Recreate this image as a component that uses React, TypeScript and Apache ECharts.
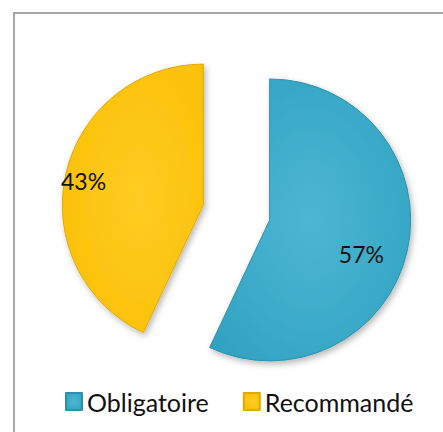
import React, { useEffect, useRef } from "react";
import * as echarts from "echarts";

const categories = ["Obligatoire", "Recommandé"];
const values = [57, 43];
const labelShift: [number, number][] = [
  [20, 18],
  [-48, -8],
];
const legendTextWidths = [122, 148];

const blueFill = new echarts.graphic.RadialGradient(0.5, 0.5, 0.8, [
  { offset: 0, color: "#4cb7d4" },
  { offset: 1, color: "#2b9dbd" },
]);
const yellowFill = new echarts.graphic.RadialGradient(0.55, 0.5, 0.8, [
  { offset: 0, color: "#ffcc22" },
  { offset: 1, color: "#f9bd00" },
]);
const fills = [blueFill, yellowFill];
const borders = ["#2d90ab", "#e2aa00"];

export default function App() {
  const ref = useRef<HTMLDivElement>(null);
  useEffect(() => {
    if (!ref.current) return;
    const chart = echarts.init(ref.current, undefined, { renderer: "svg" });
    chart.setOption({
      animation: false,
      backgroundColor: "#ffffff",
      textStyle: { fontFamily: "Lato" },
      graphic: [
        {
          type: "rect",
          shape: { x: 14, y: 13, width: 600, height: 600 },
          style: { fill: "none", stroke: "#a8a8a8", lineWidth: 2 },
          silent: true,
          z: -1,
        },
      ],
      legend: {
        bottom: 13,
        left: 60,
        itemWidth: 16,
        itemHeight: 17,
        itemGap: 34,
        icon: "rect",
        selectedMode: false,
        textStyle: { fontFamily: "Lato", fontSize: 25, color: "#111" },
        data: categories.map((name, i) => ({
          name,
          textStyle: { width: legendTextWidths[i] },
        })),
      },
      series: [
        {
          type: "pie",
          center: [236.5, 212.5],
          radius: [0, 141],
          startAngle: 90,
          clockwise: true,
          selectedMode: "multiple",
          selectedOffset: 34,
          avoidLabelOverlap: false,
          emphasis: { disabled: true },
          label: {
            show: true,
            position: "inside",
            formatter: "{d}%",
            fontFamily: "Lato",
            fontSize: 23,
            color: "#111",
          },
          labelLine: { show: false },
          labelLayout: (p: any) => ({
            dx: labelShift[p.dataIndex][0],
            dy: labelShift[p.dataIndex][1],
          }),
          data: categories.map((name, i) => ({
            name,
            value: values[i],
            selected: true,
            itemStyle: {
              color: fills[i],
              borderColor: borders[i],
              borderWidth: 1,
              shadowBlur: 6,
              shadowOffsetX: 2,
              shadowOffsetY: 3,
              shadowColor: "rgba(0,0,0,0.28)",
            },
            select: {
              itemStyle: {
                color: fills[i],
                borderColor: borders[i],
                borderWidth: 1,
              },
            },
          })),
        },
      ],
    });
    return () => chart.dispose();
  }, []);
  return (
    <div
      ref={ref}
      style={{ position: "fixed", left: 0, top: 0, width: 443, height: 432 }}
    />
  );
}
